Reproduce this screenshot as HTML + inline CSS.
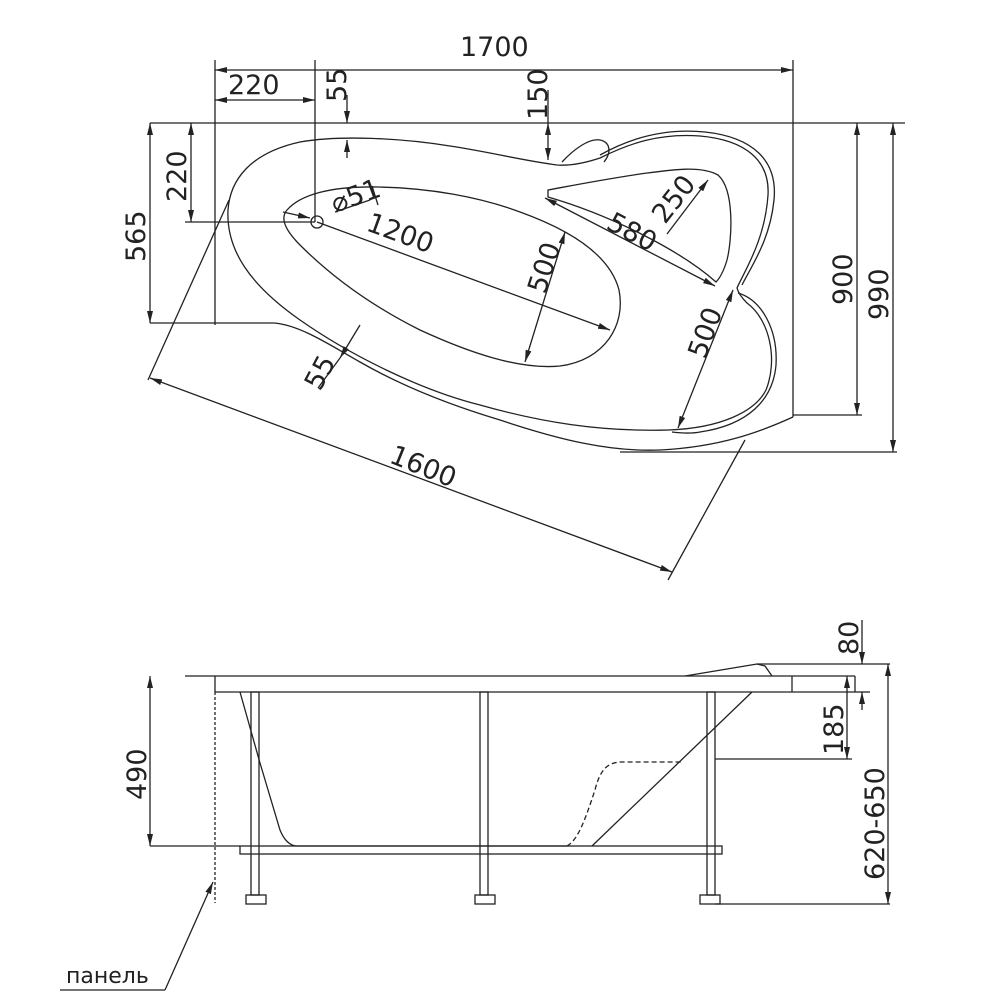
<!DOCTYPE html>
<html><head><meta charset="utf-8"><style>
html,body{margin:0;padding:0;background:#fff}
svg{display:block}
text{font-family:"DejaVu Sans","Liberation Sans",sans-serif;font-size:27px;fill:#222}
</style></head><body>
<svg width="1000" height="1000" viewBox="0 0 1000 1000" xmlns="http://www.w3.org/2000/svg">
<defs>
<marker id="a" viewBox="0 0 12 6" refX="12" refY="3" markerWidth="12" markerHeight="6" orient="auto-start-reverse" markerUnits="userSpaceOnUse"><path d="M0,0 L12,3 L0,6 z" fill="#222"/></marker>
</defs>
<g fill="none" stroke="#222" stroke-width="1.3">
<!-- top view frame lines -->
<line x1="150" y1="123" x2="905" y2="123"/>
<line x1="215" y1="60" x2="215" y2="325"/>
<line x1="793" y1="60" x2="793" y2="417"/>
<line x1="315" y1="60" x2="315" y2="222"/>
<line x1="185" y1="222" x2="315" y2="222"/>
<line x1="150" y1="323" x2="274" y2="323"/>
<line x1="793" y1="415" x2="862" y2="415"/>
<line x1="620" y1="452" x2="897" y2="452"/>
<!-- dims top -->
<line x1="215" y1="70" x2="793" y2="70" marker-start="url(#a)" marker-end="url(#a)"/>
<line x1="215" y1="100" x2="315" y2="100" marker-start="url(#a)" marker-end="url(#a)"/>
<line x1="347" y1="95" x2="347" y2="123" marker-end="url(#a)"/>
<line x1="347" y1="158" x2="347" y2="140" marker-end="url(#a)"/>
<line x1="548" y1="90" x2="548" y2="123" />
<line x1="548" y1="123" x2="548" y2="160" marker-start="url(#a)" marker-end="url(#a)"/>
<line x1="150" y1="123" x2="150" y2="323" marker-start="url(#a)" marker-end="url(#a)"/>
<line x1="191" y1="123" x2="191" y2="222" marker-start="url(#a)" marker-end="url(#a)"/>
<line x1="857" y1="123" x2="857" y2="415" marker-start="url(#a)" marker-end="url(#a)"/>
<line x1="893" y1="123" x2="893" y2="452" marker-start="url(#a)" marker-end="url(#a)"/>
<!-- outer boundary bottom -->
<path d="M274,323 C300,325 330,345 360,362 C400,385 450,405 500,420 C560,440 610,452 660,450 C720,447 760,432 793,417"/>
<!-- tub edge loop -->
<path d="M557,165 C520,160 490,152 450,146 C400,138 340,135 300,142 C250,153 230,180 228,210 C226,250 250,285 300,320 C350,355 420,390 480,405 C540,422 600,432 669,430 C720,428 755,412 766,390 C778,360 770,320 747,303 C742,298 738,292 737,288 C745,270 765,240 768,195 C770,160 745,140 700,136 C660,133 630,143 600,158 C585,163 570,166 557,165 Z"/>
<path d="M600,155 C630,138 665,128 705,132 C752,137 778,160 774,200 C770,240 752,265 742,285"/>
<path d="M738,293 C762,300 778,330 776,365 C773,400 748,425 700,432 C690,434 680,433 672,432"/>
<!-- headrest -->
<path d="M562,162 C575,148 590,138 600,140 C610,142 612,152 604,162"/>
<!-- seat -->
<path d="M548,190 C575,185 600,180 640,174 C670,170 700,165 718,175 C735,190 732,240 727,260 C724,270 720,278 716,282 C680,250 610,215 548,197 Z"/>
<!-- basin -->
<path d="M287,210 C300,195 330,186 378,187 C430,188 480,197 520,212 C570,230 610,255 619,290 C626,325 605,360 560,366 C520,370 470,353 420,330 C370,305 330,275 300,245 C285,230 280,218 287,210 Z"/>
<circle cx="317" cy="222" r="6"/>
<!-- dims inner -->
<line x1="317" y1="222" x2="610" y2="330" marker-end="url(#a)"/>
<line x1="335" y1="212" x2="370" y2="200"/>
<line x1="372" y1="186" x2="378" y2="205"/>
<line x1="283" y1="212" x2="310" y2="218" marker-end="url(#a)"/>
<line x1="565" y1="232" x2="525" y2="362" marker-start="url(#a)" marker-end="url(#a)"/>
<line x1="545" y1="198" x2="715" y2="286" marker-start="url(#a)" marker-end="url(#a)"/>
<line x1="708" y1="180" x2="667" y2="234" marker-start="url(#a)"/>
<line x1="733" y1="290" x2="678" y2="428" marker-start="url(#a)" marker-end="url(#a)"/>
<line x1="360" y1="325" x2="340" y2="358" marker-end="url(#a)"/>
<line x1="340" y1="358" x2="318" y2="388"/>
<line x1="229" y1="200" x2="148" y2="380"/>
<line x1="745" y1="440" x2="668" y2="580"/>
<line x1="150" y1="378" x2="672" y2="572" marker-start="url(#a)" marker-end="url(#a)"/>

<!-- side view -->
<line x1="185" y1="676" x2="855" y2="676"/>
<line x1="215" y1="692" x2="855" y2="692"/>
<line x1="215" y1="676" x2="215" y2="692"/>
<line x1="792" y1="676" x2="792" y2="692"/>
<line x1="855" y1="676" x2="855" y2="692"/>
<path d="M685,676 L757,664 L765,666 L772,676"/>
<line x1="757" y1="664" x2="890" y2="664"/>
<line x1="855" y1="692" x2="870" y2="692"/>
<!-- legs -->
<rect x="251" y="692" width="8" height="203"/>
<rect x="480" y="692" width="8" height="203"/>
<rect x="707" y="692" width="8" height="203"/>
<rect x="246" y="895" width="20" height="9"/>
<rect x="475" y="895" width="20" height="9"/>
<rect x="700" y="895" width="20" height="9"/>
<rect x="240" y="846" width="482" height="8"/>
<!-- tub -->
<path d="M240,692 L260,763 L280,830 C284,840 290,846 297,846 L567,846"/>
<path d="M567,846 C578,840 585,820 595,790 C600,770 607,763 620,762 L682,762" stroke-dasharray="5,3"/>
<line x1="592" y1="846" x2="752" y2="692"/>
<line x1="715" y1="759" x2="852" y2="759"/>
<line x1="715" y1="904" x2="890" y2="904"/>
<!-- dims side -->
<line x1="150" y1="676" x2="150" y2="846" marker-start="url(#a)" marker-end="url(#a)"/>
<line x1="150" y1="846" x2="240" y2="846"/>
<line x1="862" y1="620" x2="862" y2="664" marker-end="url(#a)"/>
<line x1="862" y1="710" x2="862" y2="692" marker-end="url(#a)"/>
<line x1="847" y1="676" x2="847" y2="759" marker-start="url(#a)" marker-end="url(#a)"/>
<line x1="888" y1="664" x2="888" y2="904" marker-start="url(#a)" marker-end="url(#a)"/>
<line x1="215" y1="692" x2="215" y2="903" stroke-dasharray="3,2"/>
<line x1="165" y1="990" x2="213" y2="882" marker-end="url(#a)"/>
<line x1="60" y1="990" x2="165" y2="990"/>
</g>
<text x="460" y="56">1700</text>
<text x="228" y="94">220</text>
<text transform="translate(346,102) rotate(-90)">55</text>
<text transform="translate(547,120) rotate(-90)">150</text>
<text transform="translate(145,262) rotate(-90)">565</text>
<text transform="translate(186,202) rotate(-90)">220</text>
<text transform="translate(852,305) rotate(-90)">900</text>
<text transform="translate(888,320) rotate(-90)">990</text>
<text transform="translate(335,213) rotate(-20)">⌀51</text>
<text transform="translate(365,230) rotate(20)">1200</text>
<text transform="translate(545,295) rotate(-72)">500</text>
<text transform="translate(605,228) rotate(28)">580</text>
<text transform="translate(665,225) rotate(-52)">250</text>
<text transform="translate(705,360) rotate(-70)">500</text>
<text transform="translate(320,392) rotate(-62)">55</text>
<text transform="translate(388,462) rotate(22)">1600</text>
<text transform="translate(146,800) rotate(-90)">490</text>
<text transform="translate(858,655) rotate(-90)">80</text>
<text transform="translate(843,755) rotate(-90)">185</text>
<text transform="translate(884,880) rotate(-90)">620-650</text>
<text x="66" y="983" style="font-size:22px">панель</text>
</svg>
</body></html>
